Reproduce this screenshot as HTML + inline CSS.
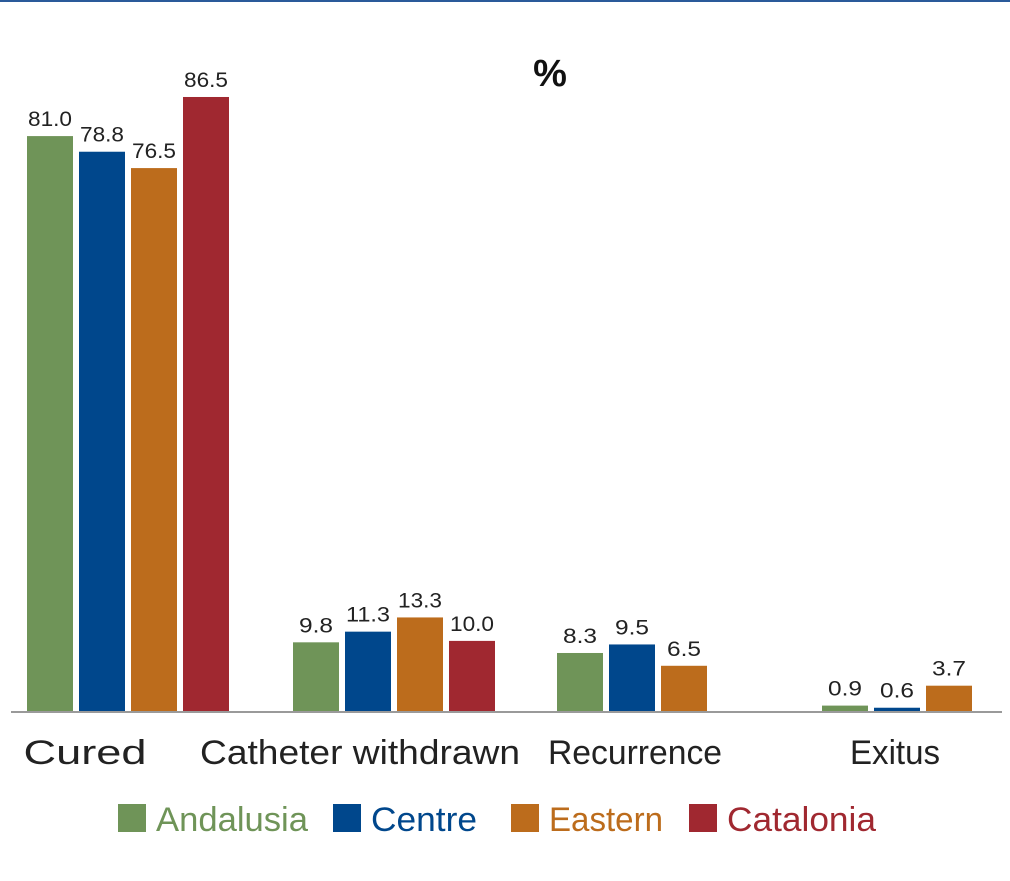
<!DOCTYPE html>
<html><head><meta charset="utf-8"><style>
html,body{margin:0;padding:0;background:#fff;}
svg{display:block;font-family:"Liberation Sans",sans-serif;}
</style></head><body>
<svg id="chart" width="1010" height="881" viewBox="0 0 1010 881">
<rect x="0" y="0" width="1010" height="2" fill="#2a5a9a"/>
<text x="550" y="86" text-anchor="middle" font-size="38" font-weight="bold" fill="#111">%</text>
<g id="bars"></g>
<line x1="11" y1="712" x2="1002" y2="712" stroke="#9a9a9a" stroke-width="2"/>
<g id="cats"></g>
<g id="legend"></g>
</svg>
<script>
const categories = ["Cured", "Catheter withdrawn", "Recurrence", "Exitus"];
const seriesNames = ["Andalusia", "Centre", "Eastern", "Catalonia"];
const andalusia = [81.0, 9.8, 8.3, 0.9];
const centre = [78.8, 11.3, 9.5, 0.6];
const eastern = [76.5, 13.3, 6.5, 3.7];
const catalonia = [86.5, 10.0, null, null];
const colors = ["#6f9458", "#00478c", "#bc6c1c", "#a02830"];
const series = [andalusia, centre, eastern, catalonia];
const NS = "http://www.w3.org/2000/svg";
const baseY = 712, scale = 7.11;
function yPos(v){ return baseY - v*scale; }
const groupX = [27, 293, 557, 822];
const catCenters = [85, 360, 635, 895];
const catWidths = [123, 320, 174, 90];
function xPos(ci, si){ return groupX[ci] + si*52; }
const bw = 46;
const gb = document.getElementById('bars');
categories.forEach((c, ci) => {
  series.forEach((s, si) => {
    const v = s[ci];
    if (v === null || v === undefined) return;
    const r = document.createElementNS(NS, 'rect');
    r.setAttribute('x', xPos(ci, si));
    r.setAttribute('y', yPos(v));
    r.setAttribute('width', bw);
    r.setAttribute('height', baseY - yPos(v));
    r.setAttribute('fill', colors[si]);
    
    
    gb.appendChild(r);
    const t = document.createElementNS(NS, 'text');
    t.setAttribute('x', xPos(ci, si) + bw/2);
    t.setAttribute('y', yPos(v) - 10);
    t.setAttribute('text-anchor', 'middle');
    t.setAttribute('font-size', '21');
    t.setAttribute('fill', '#222');
    t.setAttribute('textLength', v >= 10 ? '44' : '34');
    t.setAttribute('lengthAdjust', 'spacingAndGlyphs');
    
    
    t.textContent = v.toFixed(1);
    gb.appendChild(t);
  });
  const t = document.createElementNS(NS, 'text');
  t.setAttribute('x', catCenters[ci]);
  t.setAttribute('y', 764);
  t.setAttribute('text-anchor', 'middle');
  t.setAttribute('font-size', '34');
  t.setAttribute('fill', '#222');
  t.setAttribute('textLength', catWidths[ci]);
  t.setAttribute('lengthAdjust', 'spacingAndGlyphs');
  
  
  t.textContent = c;
  document.getElementById('cats').appendChild(t);
});
const legX = [118, 333, 511, 689];
const legW = [152, 106, 114, 149];
const gl = document.getElementById('legend');
seriesNames.forEach((n, i) => {
  const r = document.createElementNS(NS, 'rect');
  r.setAttribute('x', legX[i]); r.setAttribute('y', 804);
  r.setAttribute('width', 28); r.setAttribute('height', 28);
  r.setAttribute('fill', colors[i]);
  
  
  gl.appendChild(r);
  const t = document.createElementNS(NS, 'text');
  t.setAttribute('x', legX[i] + 38); t.setAttribute('y', 831);
  t.setAttribute('font-size', '34');
  t.setAttribute('fill', colors[i]);
  t.setAttribute('textLength', legW[i]);
  t.setAttribute('lengthAdjust', 'spacingAndGlyphs');
  
  
  t.textContent = n;
  gl.appendChild(t);
});
</script>
</body></html>
